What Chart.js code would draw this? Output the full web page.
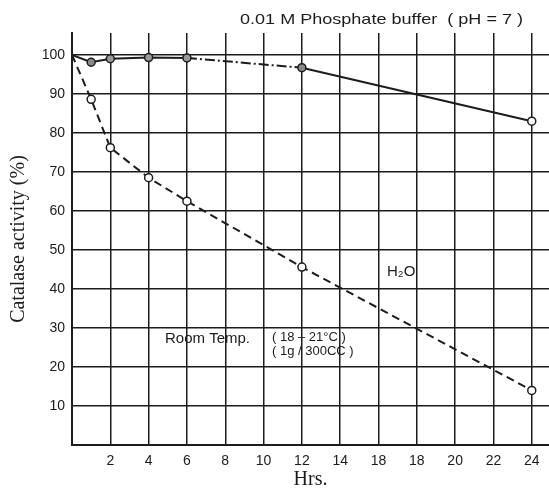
<!DOCTYPE html>
<html>
<head>
<meta charset="utf-8">
<script src="https://cdn.jsdelivr.net/npm/chart.js@4.4.0/dist/chart.umd.min.js"></script>
<style>
  html, body { margin: 0; padding: 0; background: #fff; }
  #wrap { width: 549px; height: 492px; }
</style>
</head>
<body>
<div id="wrap"><canvas id="c"></canvas></div>
<script>
// Données
const hours = [0, 1, 2, 4, 6, 12, 24];
const phosphate = [100, 98.1, 99.0, 99.3, 99.2, 96.7, 83];
const water = [100, 88.6, 76.2, 68.5, 62.5, 45.6, 14];
const xTickValues = [0, 2, 4, 6, 8, 10, 12, 14, 16, 18, 20, 22, 24];
const xTickLabels = ['', '2', '4', '6', '8', '10', '12', '14', '18', '18', '20', '22', '24'];
const yTickValues = [0, 10, 20, 30, 40, 50, 60, 70, 80, 90, 100];
const yTickLabels = ['', '10', '20', '30', '40', '50', '60', '70', '80', '90', '100'];

const ink = '#1c1c1c';
const toPts = (xs, ys) => xs.map((x, i) => ({ x: x, y: ys[i] }));

// texte étiré à une largeur donnée
function fitText(ctx, txt, x, y, w) {
  const m = ctx.measureText(txt).width;
  ctx.save();
  ctx.translate(x, y);
  ctx.scale(w / m, 1);
  ctx.fillText(txt, 0, 0);
  ctx.restore();
}

// Textes libres (titre, annotations)
const notes = {
  id: 'notes',
  afterDraw(chart) {
    const ctx = chart.ctx;
    ctx.save();
    ctx.fillStyle = ink;
    ctx.textBaseline = 'middle';
    ctx.textAlign = 'left';
    ctx.font = '15px "Liberation Sans", Arial, sans-serif';
    fitText(ctx, '0.01 M Phosphate buffer  ( pH = 7 )', 240, 20, 283);
    ctx.fillText('H\u2082O', 387, 272);
    ctx.fillText('Room Temp.', 165, 339);
    ctx.font = '13px "Liberation Sans", Arial, sans-serif';
    ctx.fillText('( 18 \u2013 21\u00b0C )', 272, 337);
    ctx.fillText('( 1g / 300CC )', 272, 351);
    ctx.restore();
  }
};

new Chart(document.getElementById('c'), {
  type: 'line',
  data: {
    datasets: [{
      label: 'Phosphate buffer',
      data: toPts(hours, phosphate),
      borderColor: ink,
      borderWidth: 2,
      pointRadius: [0, 4, 4, 4, 4, 4, 4],
      pointBorderWidth: 1.5,
      pointBorderColor: ink,
      pointBackgroundColor: ['#888', '#888', '#999', '#999', '#999', '#888', '#fff'],
      segment: {
        borderDash: ctx => (ctx.p0.parsed.x >= 6 && ctx.p1.parsed.x <= 12) ? [10, 3, 2, 3] : undefined
      }
    }, {
      label: 'H2O',
      data: toPts(hours, water),
      borderColor: ink,
      borderWidth: 2,
      borderDash: [8, 5],
      pointRadius: [0, 4, 4, 4, 4, 4, 4],
      pointBorderWidth: 1.5,
      pointBorderColor: ink,
      pointBackgroundColor: '#fff'
    }]
  },
  options: {
    responsive: true,
    maintainAspectRatio: false,
    animation: false,
    layout: { autoPadding: false, padding: { top: 33, right: 0, left: 0, bottom: 0 } },
    plugins: {
      legend: { display: false },
      tooltip: { enabled: false }
    },
    scales: {
      x: {
        type: 'linear',
        min: 0,
        max: 24.9,
        afterBuildTicks: s => { s.ticks = xTickValues.map(v => ({ value: v })); },
        afterFit: s => { s.height = 47; },
        grid: { color: ink, lineWidth: 1.5, drawTicks: false },
        border: { color: ink, width: 2 },
        ticks: {
          padding: 8,
          color: ink,
          font: { family: '"Liberation Sans", Arial, sans-serif', size: 14 },
          callback: (v, i) => xTickLabels[i]
        },
        title: {
          display: true,
          text: 'Hrs.',
          color: ink,
          padding: { top: 2, bottom: 0 },
          font: { family: '"Liberation Serif", "Times New Roman", serif', size: 20 }
        }
      },
      y: {
        min: 0,
        max: 105.6,
        afterBuildTicks: s => { s.ticks = yTickValues.map(v => ({ value: v })); },
        afterFit: s => { s.width = 72; },
        grid: { color: ink, lineWidth: 1.5, drawTicks: false },
        border: { color: ink, width: 2 },
        ticks: {
          padding: 7,
          color: ink,
          font: { family: '"Liberation Sans", Arial, sans-serif', size: 14 },
          callback: (v, i) => yTickLabels[i]
        },
        title: {
          display: true,
          text: 'Catalase activity (%)',
          color: ink,
          padding: { top: 7, bottom: 0 },
          font: { family: '"Liberation Serif", "Times New Roman", serif', size: 20 }
        }
      }
    }
  },
  plugins: [notes]
});
</script>
</body>
</html>
